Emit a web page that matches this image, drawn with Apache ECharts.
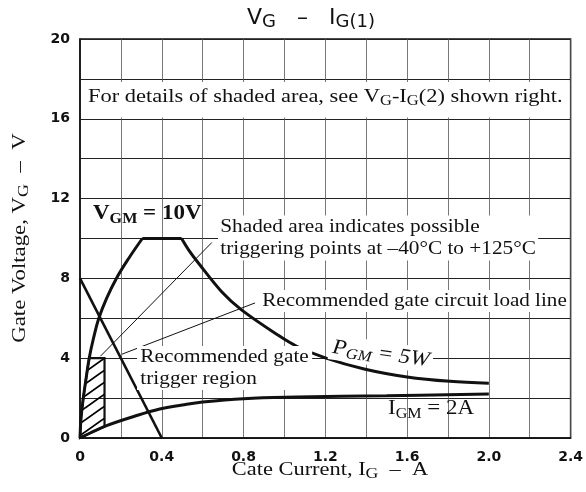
<!DOCTYPE html>
<html>
<head>
<meta charset="utf-8">
<script src="https://cdn.jsdelivr.net/npm/echarts@6/dist/echarts.min.js"></script>
<style>html,body{margin:0;padding:0;background:#fff}#c{width:586px;height:492px}</style>
</head>
<body>
<div id="c"></div>
<script>
// ---- data ----
const xTickValues = [0, 0.4, 0.8, 1.2, 1.6, 2.0, 2.4];
const yTickValues = [0, 4, 8, 12, 16, 20];
// rising boundary curve (from origin up to VGM = 10 V)
const risingX = [0, 0.005, 0.016, 0.03, 0.045, 0.066, 0.092, 0.13, 0.178, 0.238, 0.305];
const risingY = [0, 1, 2, 3, 4, 5, 6, 7, 8, 9, 10];
// VGM = 10 V flat segment
const vgmX = [0.305, 0.497];
const vgmY = [10, 10];
// PGM = 5 W curve
const pgmX = [0.497, 0.532, 0.58, 0.693, 0.79, 0.968, 1.06, 1.2, 1.39, 1.6, 1.81, 2.0];
const pgmY = [10, 9.42, 8.76, 7.33, 6.42, 5.16, 4.6, 4.02, 3.46, 3.06, 2.84, 2.75];
// IGM = 2 A curve
const igmX = [0, 0.05, 0.13, 0.27, 0.39, 0.5, 0.6, 0.8, 1.06, 1.5, 2.0];
const igmY = [0, 0.25, 0.62, 1.1, 1.45, 1.65, 1.8, 1.97, 2.05, 2.12, 2.2];
// recommended gate circuit load line
const loadX = [0, 0.4];
const loadY = [8, 0];
// recommended gate trigger region (hatched)
const shadeX = [0, 0.005, 0.016, 0.03, 0.045, 0.12, 0.12, 0.05, 0];
const shadeY = [0, 1, 2, 3, 4, 4, 0.57, 0.25, 0];

const pairs = (xs, ys) => xs.map((x, i) => [x, ys[i]]);

// hatch pattern
const pc = document.createElement('canvas');
pc.width = 17; pc.height = 12;
const g = pc.getContext('2d');
g.strokeStyle = '#000'; g.lineWidth = 1.8;
g.beginPath();
g.moveTo(-17, 24); g.lineTo(34, -12);
g.moveTo(-17, 12); g.lineTo(17, -12);
g.moveTo(0, 24); g.lineTo(34, 0);
g.stroke();

const serif = '"Liberation Serif", "Times New Roman", serif';
const sans = '"DejaVu Sans", sans-serif';

const chart = echarts.init(document.getElementById('c'), null, {renderer: 'canvas'});
const curveLine = (w) => ({color: '#111', width: w});
const txt = (size, extra) => Object.assign({fontFamily: serif, fontSize: size, lineHeight: size + 4, fill: '#111'}, extra || {});
const sub = (size, extra) => Object.assign({fontFamily: serif, fontSize: size, lineHeight: size, verticalAlign: 'bottom', fill: '#111'}, extra || {});

const option = {
  animation: false,
  backgroundColor: '#fff',
  grid: {left: 80, right: 10, top: 39, bottom: 54, show: true, borderColor: '#111', borderWidth: 1.5},
  xAxis: {
    type: 'value', min: 0, max: 2.4, interval: 0.2,
    axisLine: {show: true, lineStyle: {color: '#111', width: 1.5}},
    axisTick: {show: false},
    axisLabel: {
      margin: 12, color: '#111', fontFamily: sans, fontWeight: 'bold', fontSize: 14,
      formatter: v => {
        const t = xTickValues.find(k => Math.abs(k - v) < 1e-6);
        if (t === undefined) return '';
        return t === 0 ? '0' : t.toFixed(1);
      }
    },
    splitLine: {show: true, lineStyle: {color: '#555', width: 0.8}}
  },
  yAxis: {
    type: 'value', min: 0, max: 20, interval: 2,
    axisLine: {show: true, lineStyle: {color: '#111', width: 1.5}},
    axisTick: {show: false},
    axisLabel: {
      margin: 10, color: '#111', fontFamily: sans, fontWeight: 'bold', fontSize: 14,
      formatter: v => yTickValues.indexOf(v) >= 0 ? String(v) : ''
    },
    splitLine: {show: true, lineStyle: {color: '#222', width: 1.1}}
  },
  series: [
    {
      type: 'line', data: [], silent: true,
      markArea: {
        silent: true,
        itemStyle: {color: '#fff'},
        data: [[{coord: [0.006, 17.85]}, {coord: [2.394, 16.06]}]]
      }
    },
    {
      type: 'custom', silent: true, z: 3,
      data: [0],
      renderItem: (params, api) => {
        const pts = shadeX.map((x, i) => api.coord([x, shadeY[i]]));
        return {
          type: 'polygon',
          shape: {points: pts},
          style: {fill: {image: pc, repeat: 'repeat'}, stroke: '#111', lineWidth: 2.2}
        };
      }
    },
    {type: 'line', data: pairs(risingX, risingY), smooth: 0.4, showSymbol: false, lineStyle: curveLine(3), z: 4},
    {type: 'line', data: pairs(vgmX, vgmY), showSymbol: false, lineStyle: curveLine(3), z: 4},
    {type: 'line', data: pairs(pgmX, pgmY), smooth: 0.35, showSymbol: false, lineStyle: curveLine(3), z: 4},
    {type: 'line', data: pairs(igmX, igmY), smooth: 0.4, showSymbol: false, lineStyle: curveLine(3), z: 4},
    {type: 'line', data: pairs(loadX, loadY), showSymbol: false, lineStyle: curveLine(2.6), z: 4,
     markLine: {
       silent: true, symbol: ['none', 'arrow'], symbolSize: [0, 9],
       lineStyle: {color: '#111', width: 1, type: 'solid'}, label: {show: false},
       data: [
         [{coord: [0.645, 9.8]}, {coord: [0.1, 4.1]}],
         [{coord: [0.856, 6.77]}, {coord: [0.205, 4.2]}]
       ]
     }}
  ],
  graphic: [
    {type: 'text', x: 311, y: 18, z: 10, style: {
      text: '{v|V}{s|G}{v|   –   I}{s|G(1)}', textAlign: 'center', textVerticalAlign: 'middle',
      rich: {v: {fontFamily: sans, fontSize: 22, lineHeight: 26, fill: '#111'},
             s: {fontFamily: sans, fontSize: 18, lineHeight: 18, verticalAlign: 'bottom', fill: '#111'}}
    }},
    {type: 'text', x: 88, y: 97, z: 10, scaleX: 1.18, style: {
      text: '{t|For details of shaded area, see V}{s|G}{t|-I}{s|G}{t|(2) shown right.}',
      textAlign: 'left', textVerticalAlign: 'middle',
      rich: {t: txt(19), s: sub(14)}
    }},
    {type: 'text', x: 93, y: 214, z: 10, scaleX: 1.15, style: {
      text: '{t|V}{s|GM}{t| = 10V}', textAlign: 'left', textVerticalAlign: 'middle',
      rich: {t: txt(20, {fontWeight: 'bold'}), s: sub(14, {fontWeight: 'bold'})}
    }},
    {type: 'text', x: 218, y: 238, z: 10, scaleX: 1.12, style: {
      text: 'Shaded area indicates possible\ntriggering points at –40°C to +125°C',
      font: '19px ' + serif, lineHeight: 22, fill: '#111', textAlign: 'left', textVerticalAlign: 'middle',
      backgroundColor: '#fff', padding: [1, 2, 0, 2]
    }},
    {type: 'text', x: 260, y: 301, z: 10, scaleX: 1.11, style: {
      text: 'Recommended gate circuit load line',
      font: '19px ' + serif, fill: '#111', textAlign: 'left', textVerticalAlign: 'middle',
      backgroundColor: '#fff', padding: [2, 2, 1, 2]
    }},
    {type: 'text', x: 137, y: 368, z: 10, scaleX: 1.12, style: {
      text: 'Recommended gate\ntrigger region',
      font: '19px ' + serif, lineHeight: 22, fill: '#111', textAlign: 'left', textVerticalAlign: 'middle',
      backgroundColor: '#fff', padding: [0, 3, 0, 3]
    }},
    {type: 'text', x: 381, y: 354, z: 10, rotation: -0.14, scaleX: 1.1, style: {
      text: '{t|P}{s|GM}{t| = 5W}', textAlign: 'center', textVerticalAlign: 'middle',
      backgroundColor: '#fff', padding: [0, 3, 0, 3],
      rich: {t: txt(21, {fontStyle: 'italic'}), s: sub(15, {fontStyle: 'italic'})}
    }},
    {type: 'text', x: 388, y: 409, z: 10, scaleX: 1.15, style: {
      text: '{t|I}{s|GM}{t| = 2A}', textAlign: 'left', textVerticalAlign: 'middle',
      rich: {t: txt(20), s: sub(14)}
    }},
    {type: 'text', x: 330, y: 470, z: 10, scaleX: 1.18, style: {
      text: '{t|Cate Current, I}{s|G}{t|  –  A}', textAlign: 'center', textVerticalAlign: 'middle',
      rich: {t: txt(19), s: sub(15)}
    }},
    {type: 'text', x: 20, y: 238, z: 10, rotation: Math.PI / 2, scaleX: 1.2, style: {
      text: '{t|Gate Voltage, V}{s|G}{t|  –  V}', textAlign: 'center', textVerticalAlign: 'middle',
      rich: {t: txt(19), s: sub(15)}
    }}
  ]
};
chart.setOption(option);
</script>
</body>
</html>
